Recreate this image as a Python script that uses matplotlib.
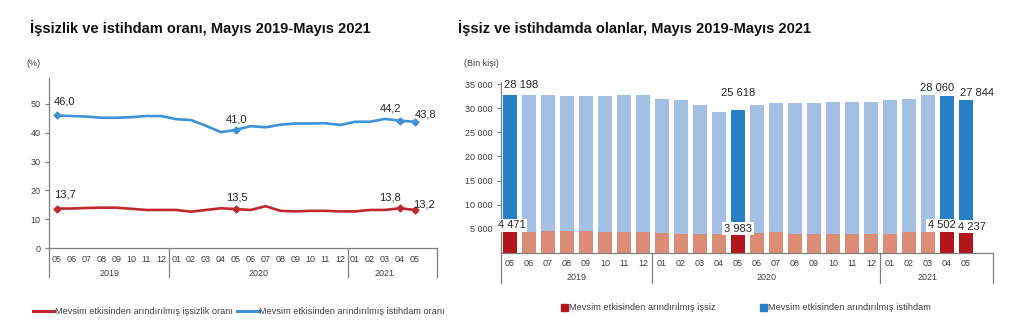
import matplotlib
matplotlib.use('Agg')
import matplotlib.pyplot as plt
import matplotlib.transforms as mtransforms
from matplotlib.lines import Line2D
from matplotlib.patches import Patch

plt.rcParams['font.family'] = ['Liberation Sans', 'DejaVu Sans']

# Veriler: Mayıs 2019 - Mayıs 2021
aylar = ['05', '06', '07', '08', '09', '10', '11', '12',
         '01', '02', '03', '04', '05', '06', '07', '08', '09', '10', '11', '12',
         '01', '02', '03', '04', '05']
yillar = ['2019', '2020', '2021']
yil_merkez = [3.5, 13.5, 22.0]
yil_sinir = [7.5, 19.5]

issizlik_orani = [13.7, 13.7, 13.9, 14.0, 14.0, 13.6, 13.2, 13.2,
                  13.2, 12.6, 13.2, 13.8, 13.5, 13.2, 14.5, 12.9, 12.7, 12.9, 12.9, 12.7,
                  12.7, 13.2, 13.2, 13.8, 13.2]
istihdam_orani = [46.0, 45.8, 45.6, 45.2, 45.2, 45.4, 45.8, 45.8,
                  44.7, 44.4, 42.4, 40.2, 41.0, 42.3, 41.9, 42.8, 43.2, 43.2, 43.3, 42.7,
                  43.8, 43.8, 44.8, 44.2, 43.8]

issiz = [4471, 4400, 4580, 4580, 4580, 4260, 4260, 4260,
         4060, 3990, 3990, 3990, 3983, 4060, 4400, 3990, 3990, 3990, 3990, 3990,
         3990, 4260, 4260, 4502, 4237]
istihdam = [28198, 28280, 28240, 28030, 28030, 28350, 28490, 28490,
            27860, 27790, 26620, 25170, 25618, 26690, 26620, 27100, 27100, 27240, 27380, 27240,
            27790, 27660, 28420, 28060, 27844]

vurgu = [0, 12, 23, 24]

KOYU_KIRMIZI = '#b2161b'
ACIK_KIRMIZI = '#dc8b74'
KOYU_MAVI = '#2780c6'
ACIK_MAVI = '#a3bfe3'
CIZGI_KIRMIZI = '#c0282e'
CIZGI_MAVI = '#3d93d6'
EKSEN = '#7f7f7f'
YAZI = '#404040'

PX = 0.72  # 1 piksel = 0.72 pt (dpi 100)


def alt_eksen(ax, alt_px_ay, alt_px_yil, alt_px_cizgi):
    """Ay / yıl etiketleri ve yıl ayırıcıları"""
    tr = mtransforms.blended_transform_factory(ax.transData, ax.transAxes)
    for i, a in enumerate(aylar):
        ax.annotate(a, (i, 0), xycoords=tr, xytext=(0, -alt_px_ay * PX),
                    textcoords='offset points', ha='center', va='center',
                    fontsize=6.5, color=YAZI)
    for y, xm in zip(yillar, yil_merkez):
        ax.annotate(y, (xm, 0), xycoords=tr, xytext=(0, -alt_px_yil * PX),
                    textcoords='offset points', ha='center', va='center',
                    fontsize=6.5, color=YAZI)
    x0, x1 = ax.get_xlim()
    h = ax.get_position().height * 333
    for xs in [x0] + yil_sinir + [x1]:
        ax.plot([xs, xs], [0, -alt_px_cizgi / h], transform=tr, color=EKSEN,
                lw=0.9, clip_on=False)
    ax.set_xticks([])


fig = plt.figure(figsize=(10.24, 3.33), dpi=100)

# ---------------- Sol grafik: oranlar ----------------
ax1 = fig.add_axes([49 / 1024, 85 / 333, 388 / 1024, 170 / 333])
x = list(range(len(aylar)))
ax1.plot(x, issizlik_orani, color=CIZGI_KIRMIZI, lw=1.9)
ax1.plot(x, istihdam_orani, color=CIZGI_MAVI, lw=1.9)
ax1.plot([x[i] for i in vurgu], [issizlik_orani[i] for i in vurgu], 'D',
         color=CIZGI_KIRMIZI, ms=3.5)
ax1.plot([x[i] for i in vurgu], [istihdam_orani[i] for i in vurgu], 'D',
         color=CIZGI_MAVI, ms=3.5)

etiket_ofset = {0: (8, 14), 12: (1, 10), 23: (-9, 12), 24: (11, 7)}
etiket_ofset_k = {0: (8, 14), 12: (1, 12), 23: (-10, 11), 24: (9, 5)}
for i in vurgu:
    dx, dy = etiket_ofset[i]
    ax1.annotate(f'{istihdam_orani[i]:.1f}'.replace('.', ','), (i, istihdam_orani[i]),
                 xytext=(dx * PX, dy * PX), textcoords='offset points',
                 ha='center', va='center', fontsize=8, color='#262626')
    dx, dy = etiket_ofset_k[i]
    ax1.annotate(f'{issizlik_orani[i]:.1f}'.replace('.', ','), (i, issizlik_orani[i]),
                 xytext=(dx * PX, dy * PX), textcoords='offset points',
                 ha='center', va='center', fontsize=8, color='#262626')

ax1.set_xlim(-0.53, 25.5)
ax1.set_ylim(0, 59)
ax1.set_yticks([0, 10, 20, 30, 40, 50])
ax1.tick_params(axis='y', length=3, width=0.8, color=EKSEN, labelsize=6.5,
                labelcolor=YAZI, pad=3)
for s in ['top', 'right']:
    ax1.spines[s].set_visible(False)
for s in ['left', 'bottom']:
    ax1.spines[s].set_color(EKSEN)
    ax1.spines[s].set_linewidth(0.9)
alt_eksen(ax1, 11, 25, 29)

fig.text(34 / 1024, 1 - 64 / 333, '(%)', ha='center', va='center', fontsize=6.5,
         color=YAZI)
fig.text(30 / 1024, 1 - 28 / 333, 'İşsizlik ve istihdam oranı, Mayıs 2019-Mayıs 2021',
         ha='left', va='center', fontsize=10.5, fontweight='bold', color='#111111')

sol_leg = [Line2D([], [], color=CIZGI_KIRMIZI, lw=2.2),
           Line2D([], [], color=CIZGI_MAVI, lw=2.2)]
fig.legend(sol_leg, ['Mevsim etkisinden arındırılmış işsizlik oranı',
                     'Mevsim etkisinden arındırılmış istihdam oranı'],
           loc='center', bbox_to_anchor=(239 / 1024, 21 / 333), ncol=2, frameon=False,
           fontsize=6.6, handlelength=2.3, handletextpad=0.05, columnspacing=0.5,
           labelcolor=YAZI)

# ---------------- Sağ grafik: bin kişi ----------------
ax2 = fig.add_axes([501 / 1024, 80 / 333, 492 / 1024, 171.3 / 333])
renk_alt = [KOYU_KIRMIZI if i in vurgu else ACIK_KIRMIZI for i in x]
renk_ust = [KOYU_MAVI if i in vurgu else ACIK_MAVI for i in x]
ax2.bar(x, issiz, width=0.74, color=renk_alt, zorder=2)
ax2.bar(x, istihdam, bottom=issiz, width=0.74, color=renk_ust, zorder=2)


def bin_format(v):
    return f'{v:,}'.replace(',', ' ')


ust_ofset = {0: (11, 10), 12: (0, 17), 23: (-10, 8), 24: (11, 5)}
alt_ofset = {0: (2, 6), 12: (0, 5), 23: (-5, 6), 24: (6, 6)}
for i in vurgu:
    dx, dy = ust_ofset[i]
    ax2.annotate(bin_format(istihdam[i]), (i, issiz[i] + istihdam[i]),
                 xytext=(dx * PX, dy * PX), textcoords='offset points',
                 ha='center', va='center', fontsize=8, color='#262626', zorder=5,
                 bbox=dict(boxstyle='square,pad=0.15', fc='white', ec='none'))
    dx, dy = alt_ofset[i]
    ax2.annotate(bin_format(issiz[i]), (i, issiz[i]),
                 xytext=(dx * PX, dy * PX), textcoords='offset points',
                 ha='center', va='center', fontsize=8, color='#262626', zorder=5,
                 bbox=dict(boxstyle='square,pad=0.15', fc='white', ec='none'))

y_tikler = [5000, 10000, 15000, 20000, 25000, 30000, 35000]
ax2.set_xlim(-0.47, 25.42)
ax2.set_ylim(0, 35500)
ax2.set_yticks(y_tikler)
ax2.set_yticklabels([bin_format(v) for v in y_tikler])
ax2.tick_params(axis='y', length=3, width=0.8, color=EKSEN, labelsize=6.5,
                labelcolor=YAZI, pad=3)
for s in ['top', 'right']:
    ax2.spines[s].set_visible(False)
for s in ['left', 'bottom']:
    ax2.spines[s].set_color(EKSEN)
    ax2.spines[s].set_linewidth(0.9)
alt_eksen(ax2, 10, 25, 30)

fig.text(481 / 1024, 1 - 63 / 333, '(Bin kişi)', ha='center', va='center', fontsize=6.5,
         color=YAZI)
fig.text(458 / 1024, 1 - 28 / 333, 'İşsiz ve istihdamda olanlar, Mayıs 2019-Mayıs 2021',
         ha='left', va='center', fontsize=10.5, fontweight='bold', color='#111111')

sag_leg = [Patch(color=KOYU_KIRMIZI), Patch(color=KOYU_MAVI)]
fig.legend(sag_leg, ['Mevsim etkisinden arındırılmış işsiz',
                     'Mevsim etkisinden arındırılmış istihdam'],
           loc='center', bbox_to_anchor=(746 / 1024, 25 / 333), ncol=2, frameon=False,
           fontsize=6.7, handlelength=0.7, handleheight=0.7, handletextpad=0.1,
           columnspacing=4.8, labelcolor=YAZI)

fig.savefig('out.png', dpi=100, facecolor='white')
